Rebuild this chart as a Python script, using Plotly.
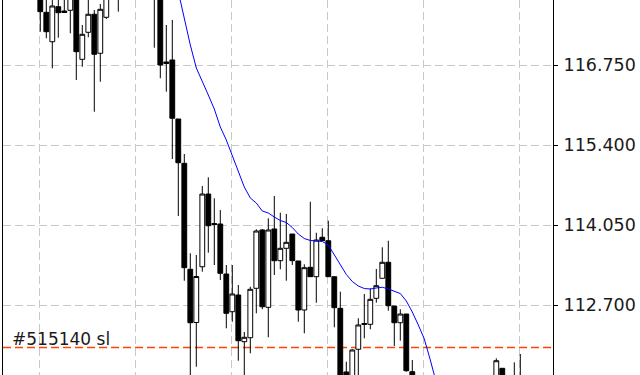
import plotly.graph_objects as go

# ---- data ----
idx = list(range(81))
opens = [117.987, 117.644, 117.148, 117.739, 117.666, 117.678, 118.021, 116.851, 117.307, 117.611,
         116.953, 117.560, 118.000, 118.360, 118.000, 118.300, 118.600, 118.200, 118.000, 118.300,
         117.987, 116.806, 116.840, 115.844, 115.096, 113.308, 112.410, 113.351, 114.578, 114.080,
         114.072, 113.228, 112.592, 112.874, 112.086, 112.153, 112.987, 113.971, 112.666, 113.988,
         113.453, 113.662, 113.903, 113.448, 112.621, 113.341, 113.183, 113.848, 113.790, 113.183,
         112.649, 111.575, 111.237, 111.958, 112.376, 112.379, 112.818, 113.156, 113.426, 112.688,
         112.406, 112.553, 111.580, 110.760, 110.450, 110.150, 110.400, 110.200, 110.600, 110.900,
         110.700, 111.050, 110.950, 111.200, 111.000, 111.300, 111.186, 111.637, 111.400, 111.150,
         111.350]
highs = [118.105, 117.886, 117.886, 117.903, 117.903, 118.021, 118.105, 117.430, 117.903, 117.683,
         117.785, 118.274, 118.450, 118.530, 118.450, 118.700, 118.750, 118.350, 118.400, 118.400,
         118.105, 117.430, 117.515, 115.844, 115.253, 113.578, 113.549, 114.713, 114.860, 114.506,
         114.308, 113.380, 113.380, 113.043, 112.250, 113.014, 113.983, 113.988, 114.168, 114.545,
         114.263, 114.241, 113.903, 113.448, 113.392, 114.448, 113.925, 113.999, 114.128, 113.183,
         112.930, 111.748, 111.958, 112.481, 112.891, 112.987, 113.313, 113.679, 113.790, 112.688,
         112.633, 112.553, 111.777, 110.950, 110.600, 110.550, 110.700, 110.750, 111.050, 111.100,
         111.200, 111.300, 111.350, 111.400, 111.350, 111.450, 111.806, 111.637, 111.473, 111.738,
         111.878]
lows = [117.317, 117.206, 116.699, 117.216, 117.641, 117.290, 116.502, 116.726, 117.223, 115.967,
        116.473, 117.531, 117.903, 117.655, 117.930, 118.200, 118.100, 117.900, 117.950, 117.047,
        116.531, 116.305, 115.169, 114.207, 113.115, 111.355, 111.664, 113.267, 113.588, 113.380,
        113.127, 112.312, 112.423, 111.765, 111.440, 111.890, 112.565, 112.633, 112.160, 113.211,
        113.308, 113.115, 113.380, 112.423, 112.228, 113.180, 112.744, 113.790, 113.183, 112.329,
        111.102, 110.933, 111.102, 111.355, 112.143, 112.295, 112.744, 113.156, 112.609, 112.013,
        112.103, 111.580, 110.596, 110.300, 110.000, 110.050, 110.100, 110.100, 110.450, 110.550,
        110.600, 110.800, 110.850, 110.900, 110.900, 111.050, 111.102, 111.018, 111.050, 111.050,
        111.200]
closes = [117.655, 117.317, 117.751, 117.638, 117.641, 117.936, 116.980, 117.273, 117.611, 116.936,
          117.695, 118.105, 118.300, 117.950, 118.350, 118.600, 118.200, 118.000, 118.300, 117.950,
          116.755, 116.780, 115.856, 115.106, 113.335, 112.406, 113.186, 114.578, 114.043, 114.064,
          113.240, 112.565, 112.891, 112.103, 112.160, 112.970, 113.954, 112.676, 113.971, 113.453,
          113.662, 113.763, 113.453, 112.621, 113.335, 113.183, 113.802, 113.790, 113.183, 112.660,
          111.237, 111.100, 111.946, 112.368, 112.393, 112.801, 113.031, 113.426, 112.693, 112.406,
          112.553, 111.596, 110.765, 110.450, 110.150, 110.400, 110.200, 110.600, 110.900, 110.700,
          111.050, 110.950, 111.200, 111.000, 111.250, 111.150, 111.765, 111.186, 111.150, 111.450,
          111.500]

ma_idx = list(range(22, 68))
ma_vals = [118.443, 117.987, 117.498, 117.093, 116.705, 116.485, 116.249, 116.013, 115.709, 115.490,
           115.236, 114.950, 114.696, 114.511, 114.426, 114.291, 114.258, 114.190, 114.131, 114.097,
           114.013, 113.903, 113.827, 113.794, 113.790, 113.777, 113.718, 113.550, 113.380, 113.220,
           113.102, 113.026, 112.983, 112.975, 112.992, 113.005, 112.975, 112.933, 112.899, 112.773,
           112.587, 112.368, 112.132, 111.777, 111.389, 111.018]

sl_price = 111.99
sl_label = "#515140 sl"
tick_vals = [112.70, 114.05, 115.40, 116.75]
tick_text = ["112.700", "114.050", "115.400", "116.750"]

FONT = "DejaVu Sans"
GRID = "#c8c8c8"

fig = go.Figure()
fig.add_trace(go.Candlestick(
    x=idx, open=opens, high=highs, low=lows, close=closes,
    increasing=dict(line=dict(color="black", width=1), fillcolor="white"),
    decreasing=dict(line=dict(color="black", width=1), fillcolor="black"),
    whiskerwidth=0, hoverinfo="skip", showlegend=False,
))
fig.add_trace(go.Scatter(
    x=ma_idx, y=ma_vals, mode="lines",
    line=dict(color="#0000ff", width=1), hoverinfo="skip", showlegend=False,
))

fig.add_shape(type="line", xref="paper", x0=0, x1=1, yref="y", y0=sl_price, y1=sl_price,
              line=dict(color="#ff4500", width=1.5, dash="8px,4px"), layer="below")
fig.add_annotation(text=sl_label, xref="paper", x=7 / 550, xanchor="left",
                   yref="y", y=sl_price, yanchor="bottom", yshift=-4, showarrow=False,
                   font=dict(family=FONT, size=17, color="#1a1a1a"))

fig.update_layout(
    width=640, height=375,
    margin=dict(l=3, r=87, t=0, b=0),
    paper_bgcolor="white", plot_bgcolor="white",
    boxgap=0.2, boxgroupgap=0,
    showlegend=False,
    xaxis=dict(range=[-6.2167, 85.45], rangeslider=dict(visible=False),
               showgrid=True, gridcolor=GRID, gridwidth=1, griddash="8px,4px",
               tickmode="linear", tick0=-0.2, dtick=16,
               showticklabels=False, ticks="", zeroline=False, showline=False),
    yaxis=dict(range=[111.524, 117.852], side="right",
               tickmode="array", tickvals=tick_vals, ticktext=tick_text,
               showgrid=True, gridcolor=GRID, gridwidth=1, griddash="8px,4px",
               ticks="outside", ticklen=4, tickcolor="black", tickwidth=1,
               showline=True, linecolor="black", linewidth=1, mirror=True,
               zeroline=False, automargin=False, ticklabelstandoff=2,
               tickfont=dict(family=FONT, size=17.5, color="#1a1a1a")),
)

fig.write_html("out.html", config={"displayModeBar": False},
               post_script="document.body.style.margin='0px';")
